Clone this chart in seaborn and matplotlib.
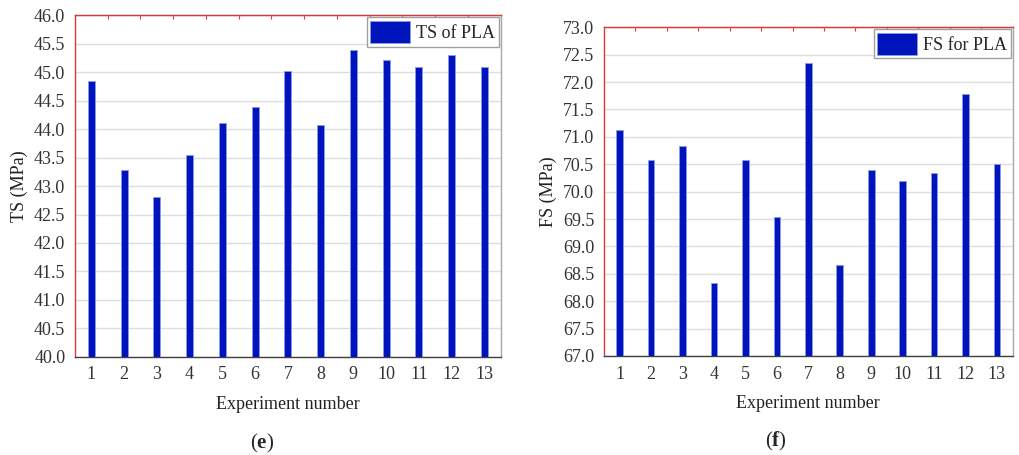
import numpy as np
import pandas as pd
import matplotlib
matplotlib.use("Agg")
import matplotlib.pyplot as plt
import seaborn as sns

# Experiment numbers and measured strengths (MPa)
experiments = [str(i) for i in range(1, 14)]
ts_pla = [44.84, 43.29, 42.81, 43.54, 44.11, 44.39, 45.02, 44.07, 45.39, 45.22, 45.09, 45.30, 45.09]
fs_pla = [71.13, 70.57, 70.83, 68.34, 70.57, 69.53, 72.34, 68.66, 70.39, 70.19, 70.34, 71.79, 70.50]

ts_ticks = np.arange(40.0, 46.01, 0.5)
fs_ticks = np.arange(67.0, 73.01, 0.5)

sns.set_style("white")
plt.rcParams['font.family'] = ['Liberation Serif', 'DejaVu Serif']
plt.rcParams['mathtext.fontset'] = 'custom'
plt.rcParams['mathtext.bf'] = 'Liberation Serif:bold'
plt.rcParams['mathtext.rm'] = 'Liberation Serif'

BAR = '#0014BE'
RED = '#d83a3a'


def draw_panel(ax, values, ticks, ylabel, legend_label):
    df = pd.DataFrame({'exp': experiments, 'val': values})
    sns.barplot(data=df, x='exp', y='val', color=BAR, width=0.21,
                saturation=1, edgecolor='#8a9ae8', linewidth=0.6,
                label=legend_label, ax=ax, zorder=3)
    ax.set_ylim(ticks[0], ticks[-1])
    ax.set_xlim(-0.5, len(experiments) - 0.5)
    ax.set_yticks(ticks)
    ax.set_yticklabels([f'{t:.1f}' for t in ticks])
    ax.yaxis.grid(True, color='#dddddd', linewidth=1.0, zorder=0)
    ax.set_axisbelow(True)

    # spines
    ax.spines['left'].set_color(RED)
    ax.spines['top'].set_color(RED)
    ax.spines['bottom'].set_color('#404040')
    ax.spines['right'].set_color('#a8a8a8')
    for s in ax.spines.values():
        s.set_linewidth(1.0)

    ax.set_xticks(np.arange(-0.5, len(experiments), 1), minor=True)
    ax.tick_params(axis='x', which='major', direction='out', length=4,
                   color='#404040', labelsize=13, labelcolor='#333333', pad=3)
    ax.tick_params(axis='x', which='minor', direction='out', length=2,
                   color='#404040')
    ax.tick_params(axis='y', direction='out', length=5, color=RED,
                   labelsize=13, labelcolor='#333333', pad=2)

    top = ax.secondary_xaxis('top')
    top.set_xticks(np.arange(0.5, len(experiments) - 0.5, 1))
    top.tick_params(direction='in', length=3, color=RED, labeltop=False)
    top.spines['top'].set_color(RED)

    ax.set_xlabel('Experiment number', fontsize=13, color='#222222', labelpad=9)
    ax.set_ylabel(ylabel, fontsize=13, color='#222222', labelpad=4)

    leg = ax.legend(loc='upper right', fontsize=13, fancybox=False,
                    edgecolor='#a0a0a0', framealpha=1, handlelength=2.2,
                    handleheight=1.5, borderaxespad=0.1, borderpad=0.2,
                    handletextpad=0.35)
    leg.get_frame().set_linewidth(1.0)


fig = plt.figure(figsize=(10.19, 4.55), dpi=100)
ax1 = fig.add_axes([0.0736, 0.216, 0.4178, 0.750])
ax2 = fig.add_axes([0.5927, 0.2176, 0.4011, 0.7224])

draw_panel(ax1, ts_pla, ts_ticks, 'TS (MPa)', 'TS of PLA')
draw_panel(ax2, fs_pla, fs_ticks, 'FS (MPa)', 'FS for PLA')

fig.text(262 / 1019, 1 - 443 / 455, r'($\mathbf{e}$)', ha='center', va='center', fontsize=15)
fig.text(776 / 1019, 1 - 441 / 455, r'($\mathbf{f}$)', ha='center', va='center', fontsize=15)

fig.savefig('out.png', dpi=100)
